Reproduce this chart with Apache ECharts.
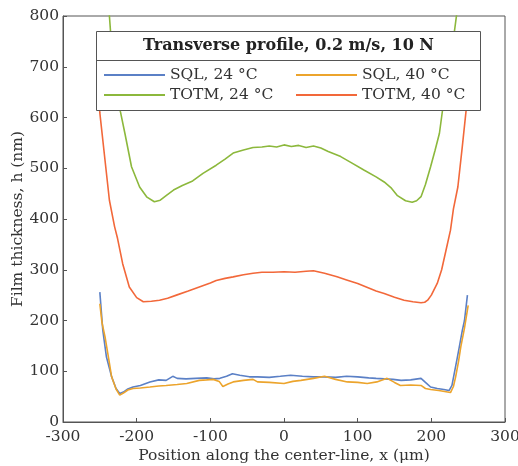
<!DOCTYPE html>
<html>
<head>
<meta charset="utf-8">
<script src="https://cdn.jsdelivr.net/npm/echarts@6/dist/echarts.min.js"></script>
<style>
  html, body { margin: 0; padding: 0; background: #fff; }
  #chart { width: 518px; height: 466px; }
</style>
</head>
<body>
<div id="chart"></div>
<script>
var sql24X = [-250, -246, -241, -234, -228, -223, -218, -212, -205, -195, -182, -170, -160, -151, -145, -133, -120, -105, -95, -87, -78, -70, -60, -47, -36, -20, -5, 9, 25, 40, 55, 70, 85, 100, 115, 125, 136, 148, 159, 172, 186, 192, 199, 208, 217, 224, 228, 231, 235, 238, 242, 245, 249]
var sql24H = [256, 181, 128, 89, 66, 56, 59, 65, 69, 72, 79, 83, 82, 90, 86, 85, 86, 87, 85, 86, 90, 95, 92, 89, 89, 88, 90, 92, 90, 89, 89, 88, 90, 89, 87, 86, 85, 84, 82, 83, 86, 78, 69, 66, 64, 62, 72, 95, 125, 148, 180, 200, 250]

var sql40X = [-250, -247, -243, -238, -234, -228, -223, -218, -212, -205, -195, -182, -170, -160, -145, -132, -115, -105, -96, -88, -83, -76, -69, -55, -42, -36, -20, 0, 12, 23, 40, 55, 70, 86, 100, 113, 126, 140, 150, 158, 172, 186, 192, 199, 210, 222, 226, 230, 233, 237, 240, 245, 250]
var sql40H = [233, 195, 168, 125, 89, 65, 53, 57, 63, 66, 67, 69, 71, 72, 74, 76, 82, 83, 84, 80, 70, 75, 79, 82, 84, 79, 78, 76, 80, 82, 86, 90, 84, 79, 78, 76, 79, 86, 78, 72, 73, 72, 66, 64, 62, 59, 58, 70, 89, 120, 148, 185, 230]

var totm24X = [-242, -237, -232, -222, -216, -207, -196, -186, -176, -168, -160, -150, -138, -124, -110, -92, -80, -69, -55, -42, -30, -20, -10, 0, 10, 20, 30, 40, 50, 60, 77, 90, 109, 125, 136, 145, 154, 165, 174, 180, 186, 192, 199, 205, 211, 217, 224, 231, 235, 240]
var totm24H = [880, 800, 700, 611, 569, 503, 463, 443, 434, 437, 446, 457, 466, 475, 490, 506, 518, 530, 536, 541, 542, 544, 542, 546, 543, 545, 541, 544, 540, 533, 523, 512, 496, 483, 473, 462, 446, 436, 433, 436, 444, 468, 503, 535, 569, 634, 700, 766, 810, 880]

var totm40X = [-252, -250, -242, -237, -230, -226, -219, -210, -200, -191, -180, -169, -158, -146, -130, -115, -100, -92, -80, -69, -55, -42, -30, -15, 0, 15, 30, 40, 55, 72, 85, 100, 115, 125, 136, 150, 163, 175, 186, 191, 195, 200, 208, 214, 220, 226, 230, 236, 242, 247, 252]
var totm40H = [660, 609, 503, 437, 385, 362, 312, 266, 245, 237, 238, 240, 244, 250, 258, 266, 274, 279, 283, 286, 290, 293, 295, 295, 296, 295, 297, 298, 293, 286, 280, 273, 264, 258, 253, 246, 240, 237, 235, 236, 240, 250, 273, 300, 339, 378, 420, 463, 542, 611, 680]

var names = ['SQL, 24 °C', 'SQL, 40 °C', 'TOTM, 24 °C', 'TOTM, 40 °C']
var colors = ['#5b80c6', '#eca42c', '#8cb83c', '#f2683a']
var xTicks = [-300, 300, 100]
var yTicks = [0, 800, 100]
var legendTitle = 'Transverse profile, 0.2 m/s, 10 N'

function zip(xs, hs) {
  return xs.map(function (x, i) { return [x, hs[i]] })
}

var serif = 'DejaVu Serif'
var axisColor = '#555'
var txt = {fontFamily: serif, fontSize: 15.5, color: '#333'}

var chart = echarts.init(document.getElementById('chart'))

function lineSeries(idx, xs, hs) {
  return {
    name: names[idx], type: 'line', symbol: 'none', clip: true,
    color: colors[idx], lineStyle: {width: 1.6}, data: zip(xs, hs)
  }
}

function legendCol(items, left) {
  return {
    data: items, orient: 'vertical', left: left, top: 62, icon: 'rect',
    itemWidth: 61, itemHeight: 2, itemGap: 4, z: 200, textStyle: txt
  }
}

var option = {
  animation: false,
  grid: {left: 63, right: 13, top: 16, bottom: 44, outerBoundsMode: 'none', show: true, borderColor: axisColor, borderWidth: 1},
  xAxis: {
    type: 'value', min: xTicks[0], max: xTicks[1], interval: xTicks[2],
    name: 'Position along the center-line, x (μm)', nameLocation: 'middle', nameGap: 26, nameMoveOverlap: false,
    nameTextStyle: txt,
    axisLine: {onZero: false, lineStyle: {color: axisColor}},
    axisTick: {inside: true, length: 4, lineStyle: {color: axisColor}},
    axisLabel: Object.assign({margin: 7}, txt),
    splitLine: {show: false}
  },
  yAxis: {
    type: 'value', min: yTicks[0], max: yTicks[1], interval: yTicks[2],
    name: 'Film thickness, h (nm)', nameLocation: 'middle', nameGap: 37, nameMoveOverlap: false,
    nameTextStyle: txt,
    axisLine: {show: true, onZero: false, lineStyle: {color: axisColor}},
    axisTick: {show: true, inside: true, length: 4, lineStyle: {color: axisColor}},
    axisLabel: Object.assign({margin: 4}, txt),
    splitLine: {show: false}
  },
  legend: [
    legendCol([names[0], names[2]], 99),
    legendCol([names[1], names[3]], 291)
  ],
  graphic: [
    {type: 'rect', z: 100, shape: {x: 96.5, y: 31.5, width: 384, height: 79}, style: {fill: '#fff', stroke: axisColor, lineWidth: 1}},
    {type: 'line', z: 101, shape: {x1: 96.5, y1: 60.5, x2: 480.5, y2: 60.5}, style: {stroke: axisColor, lineWidth: 1}},
    {type: 'text', z: 101, x: 288.5, y: 46, style: {text: legendTitle, fontFamily: serif, fontSize: 16, fontWeight: 'bold', fill: '#222', align: 'center', verticalAlign: 'middle'}}
  ],
  series: [
    lineSeries(0, sql24X, sql24H),
    lineSeries(1, sql40X, sql40H),
    lineSeries(2, totm24X, totm24H),
    lineSeries(3, totm40X, totm40H)
  ]
}

chart.setOption(option)
</script>
</body>
</html>
